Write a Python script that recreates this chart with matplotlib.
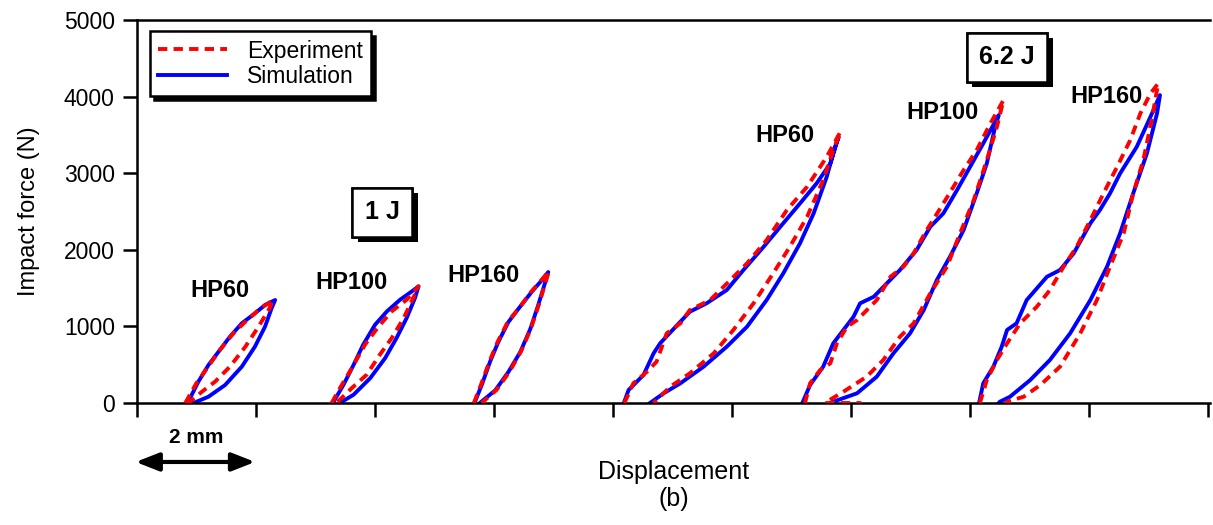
import matplotlib.pyplot as plt
import matplotlib.patheffects as pe

plt.rcParams['font.family'] = ['Liberation Sans', 'DejaVu Sans']

# displacement (mm, offset per specimen) and force (N); each loop = loading then unloading
# ---- 1 J ----
sim_1j_hp60_x = [0.85, 1.03, 1.20, 1.37, 1.56, 1.76, 1.98, 2.15, 2.32,
                 2.26, 2.15, 1.98, 1.76, 1.48, 1.20, 0.95]
sim_1j_hp60_y = [0, 278, 496, 670, 865, 1040, 1170, 1279, 1344,
                 1236, 996, 735, 474, 235, 82, 0]
exp_1j_hp60_x = [0.81, 0.99, 1.19, 1.40, 1.63, 1.86, 2.08, 2.29,
                 2.21, 2.04, 1.82, 1.56, 1.31, 1.09, 0.89, 0.86]
exp_1j_hp60_y = [0, 250, 470, 700, 920, 1090, 1240, 1344,
                 1214, 996, 735, 474, 278, 147, 17, 0]

sim_1j_hp100_x = [3.29, 3.47, 3.64, 3.80, 4.00, 4.20, 4.42, 4.62, 4.73,
                  4.67, 4.53, 4.36, 4.17, 3.92, 3.64, 3.41]
sim_1j_hp100_y = [0, 239, 500, 761, 1022, 1197, 1348, 1458, 1523,
                  1370, 1109, 848, 587, 326, 109, 0]
exp_1j_hp100_x = [3.27, 3.41, 3.61, 3.83, 4.06, 4.28, 4.53, 4.73,
                  4.64, 4.48, 4.28, 4.08, 3.86, 3.61, 3.38, 3.35]
exp_1j_hp100_y = [0, 196, 457, 761, 1000, 1197, 1348, 1523,
                  1370, 1109, 848, 631, 370, 196, 22, 0]

sim_1j_hp160_x = [5.67, 5.79, 5.93, 6.07, 6.24, 6.41, 6.63, 6.80, 6.91,
                  6.86, 6.74, 6.61, 6.44, 6.24, 6.02, 5.76]
sim_1j_hp160_y = [0, 231, 535, 796, 1057, 1231, 1449, 1601, 1710,
                  1579, 1275, 970, 666, 405, 166, 0]
exp_1j_hp160_x = [5.66, 5.78, 5.92, 6.06, 6.23, 6.42, 6.62, 6.79, 6.92,
                  6.87, 6.75, 6.62, 6.45, 6.26, 6.04, 5.79]
exp_1j_hp160_y = [0, 240, 540, 800, 1060, 1240, 1450, 1600, 1720,
                  1590, 1280, 975, 670, 410, 170, 0]

# ---- 6.2 J ----
sim_6j_hp60_x = [8.18, 8.26, 8.51, 8.68, 8.79, 9.13, 9.29, 9.57, 9.91, 10.19,
                 10.53, 10.81, 11.14, 11.42, 11.65, 11.79,
                 11.73, 11.59, 11.37, 11.14, 10.86, 10.58, 10.25, 9.91,
                 9.52, 9.13, 8.85, 8.62]
sim_6j_hp60_y = [0, 170, 365, 648, 779, 1061, 1192, 1301, 1475, 1736,
                 2040, 2301, 2605, 2867, 3128, 3475,
                 3345, 2953, 2476, 2084, 1693, 1344, 996, 735,
                 474, 257, 127, 0]
exp_6j_hp60_x = [8.19, 8.20, 8.34, 8.57, 8.73, 8.90, 9.13, 9.29, 9.63, 9.97,
                 10.25, 10.58, 10.92, 11.26, 11.59, 11.82,
                 11.70, 11.53, 11.26, 10.97, 10.69, 10.36, 10.02, 9.69,
                 9.29, 8.96, 8.73, 8.68]
exp_6j_hp60_y = [0, 17, 257, 409, 539, 909, 1040, 1214, 1344, 1605,
                 1823, 2127, 2519, 2823, 3214, 3541,
                 3302, 2910, 2431, 2040, 1693, 1301, 953, 648,
                 388, 213, 39, 0]

sim_6j_hp100_x = [11.18, 11.31, 11.53, 11.70, 11.87, 12.04, 12.15, 12.38, 12.60,
                  12.82, 13.10, 13.33, 13.55, 13.78, 14.00, 14.22, 14.48,
                  14.42, 14.28, 14.11, 13.89, 13.66, 13.44, 13.22, 12.99,
                  12.71, 12.43, 12.10, 11.70, 11.65]
sim_6j_hp100_y = [0, 235, 474, 779, 953, 1126, 1301, 1387, 1562,
                  1736, 1997, 2301, 2476, 2780, 3084, 3389, 3758,
                  3606, 3128, 2736, 2258, 1909, 1605, 1214, 909,
                  648, 343, 127, 17, 0]
exp_6j_hp100_x = [11.21, 11.23, 11.31, 11.48, 11.65, 11.76, 11.93, 12.10, 12.43,
                  12.66, 12.88, 13.05, 13.27, 13.55, 13.89, 14.11, 14.34, 14.56,
                  14.45, 14.28, 14.06, 13.83, 13.61, 13.33, 13.05, 12.82,
                  12.54, 12.26, 11.87, 11.59, 11.56, 12.17]
exp_6j_hp100_y = [0, 17, 257, 431, 518, 779, 996, 1083, 1344,
                  1648, 1779, 1954, 2258, 2606, 3041, 3302, 3650, 3954,
                  3606, 3171, 2649, 2215, 1779, 1432, 1040, 865,
                  561, 343, 147, 17, 0, 0]

sim_6j_hp160_x = [14.15, 14.22, 14.39, 14.53, 14.62, 14.78, 14.95, 15.29, 15.51,
                  15.74, 16.02, 16.18, 16.35, 16.52, 16.80, 17.03, 17.19,
                  17.14, 16.97, 16.74, 16.52, 16.30, 16.02, 15.68, 15.34,
                  15.01, 14.67, 14.50, 14.48]
sim_6j_hp160_y = [0, 257, 474, 735, 953, 1040, 1344, 1648, 1736,
                  1954, 2345, 2519, 2736, 2997, 3345, 3736, 4019,
                  3780, 3258, 2736, 2215, 1779, 1344, 909, 561,
                  300, 82, 17, 0]
exp_6j_hp160_x = [14.16, 14.17, 14.28, 14.45, 14.62, 14.84, 15.12, 15.34, 15.57,
                  15.79, 16.02, 16.24, 16.47, 16.69, 16.86, 17.03, 17.16,
                  17.05, 16.91, 16.74, 16.58, 16.35, 16.13, 15.85, 15.51,
                  15.18, 14.90, 14.62, 14.60]
exp_6j_hp160_y = [0, 17, 300, 561, 779, 1040, 1257, 1475, 1779,
                  2040, 2388, 2736, 3084, 3432, 3780, 4041, 4172,
                  3693, 3171, 2736, 2215, 1779, 1344, 909, 474,
                  235, 82, 17, 0]

exp_curves = [(exp_1j_hp60_x, exp_1j_hp60_y), (exp_1j_hp100_x, exp_1j_hp100_y),
              (exp_1j_hp160_x, exp_1j_hp160_y), (exp_6j_hp60_x, exp_6j_hp60_y),
              (exp_6j_hp100_x, exp_6j_hp100_y), (exp_6j_hp160_x, exp_6j_hp160_y)]
sim_curves = [(sim_1j_hp60_x, sim_1j_hp60_y), (sim_1j_hp100_x, sim_1j_hp100_y),
              (sim_1j_hp160_x, sim_1j_hp160_y), (sim_6j_hp60_x, sim_6j_hp60_y),
              (sim_6j_hp100_x, sim_6j_hp100_y), (sim_6j_hp160_x, sim_6j_hp160_y)]

labels = ['HP60', 'HP100', 'HP160', 'HP60', 'HP100', 'HP160']
label_x = [1.39, 3.60, 5.82, 10.89, 13.53, 16.29]
label_y = [1475, 1579, 1670, 3497, 3797, 4006]

fig = plt.figure(figsize=(12.13, 5.25), dpi=100)
ax = fig.add_axes([0.113, 0.2324, 0.8845, 0.7295])

for i, (x, y) in enumerate(sim_curves):
    ax.plot(x, y, color='#0000ff', lw=2.8, solid_joinstyle='round',
            label='Simulation' if i == 0 else None, zorder=2)
for i, (x, y) in enumerate(exp_curves):
    ax.plot(x, y, color='#ff0000', lw=2.8, ls=(0, (2.4, 1.6)),
            label='Experiment' if i == 0 else None, zorder=3)

for t, lx, ly in zip(labels, label_x, label_y):
    ax.text(lx, ly, t, ha='center', va='center', fontsize=17, fontweight='bold')

# energy boxes with black drop shadow
for t, bx, by in [('1 J', 4.12, 2493), ('6.2 J', 14.62, 4515)]:
    txt = ax.text(bx, by, t, ha='center', va='center', fontsize=18, fontweight='bold',
                  bbox=dict(boxstyle='square,pad=0.5', fc='white', ec='black', lw=1.8))
    txt.get_bbox_patch().set_path_effects(
        [pe.withSimplePatchShadow(offset=(4, -4), shadow_rgbFace='black', alpha=1), pe.Normal()])

ax.set_xlim(0, 18.03)
ax.set_ylim(0, 5000)
ax.set_xticks(range(0, 19, 2))
ax.set_xticklabels([])
ax.set_yticks(range(0, 5001, 1000))
ax.tick_params(axis='both', direction='out', length=10, width=1.8, labelsize=16.5, pad=6)
ax.spines['right'].set_visible(False)
for s in ['left', 'bottom', 'top']:
    ax.spines[s].set_linewidth(1.8)

ax.set_ylabel('Impact force (N)', fontsize=17, labelpad=17)
ax.text(0.5, -0.18, 'Displacement', transform=ax.transAxes, ha='center', va='center', fontsize=18)
ax.text(0.5, -0.25, '(b)', transform=ax.transAxes, ha='center', va='center', fontsize=18)

# 2 mm scale arrow
ax.annotate('', xy=(-0.07, -0.154), xytext=(2.03, -0.154),
            xycoords=('data', 'axes fraction'), textcoords=('data', 'axes fraction'),
            arrowprops=dict(arrowstyle='<|-|>,head_length=1.4,head_width=0.55', color='black', lw=3),
            annotation_clip=False)
ax.text(1.0, -0.09, '2 mm', transform=ax.get_xaxis_transform(), ha='center', va='center',
        fontsize=15, fontweight='bold')

leg = ax.legend(handles=[ax.lines[6], ax.lines[0]], loc='upper left',
                bbox_to_anchor=(0.012, 0.97), fontsize=16.5, frameon=True, fancybox=False,
                edgecolor='black', handlelength=3.0, handletextpad=0.9, borderpad=0.35,
                labelspacing=0.1, borderaxespad=0,
                shadow={'color': 'black', 'alpha': 1, 'ox': 3, 'oy': -3})
leg.get_frame().set_linewidth(1.8)

fig.savefig('out.png', dpi=100)
